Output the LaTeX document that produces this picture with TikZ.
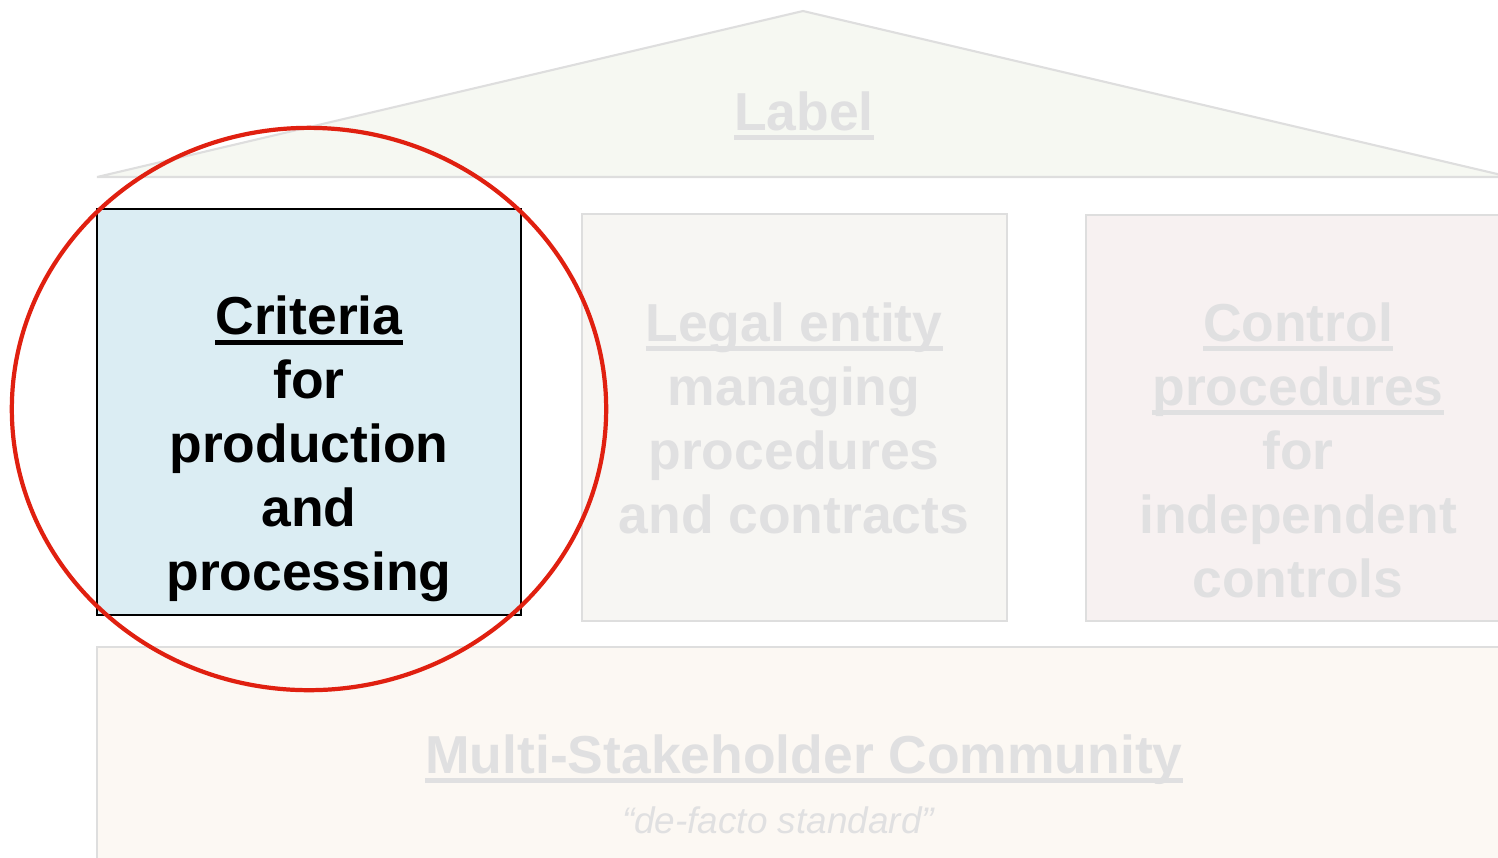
\documentclass[tikz,border=0pt]{standalone}
\usepackage{fontspec}
\setmainfont{Liberation Sans}
\usepackage{tikz}
\usetikzlibrary{shapes.geometric}

\definecolor{roofgreen}{RGB}{246,248,242}
\definecolor{fadetext}{RGB}{224,224,225}
\definecolor{fadeline}{RGB}{222,222,222}
\definecolor{critblue}{RGB}{219,237,243}
\definecolor{legalgrey}{RGB}{247,246,243}
\definecolor{controlrose}{RGB}{247,241,241}
\definecolor{basecream}{RGB}{252,248,243}
\definecolor{ringred}{RGB}{224,32,16}

\newsavebox\undersave
\newcommand{\undertext}[1]{\sbox\undersave{#1}\rlap{\rule[-2.8pt]{\wd\undersave}{1.4pt}}\usebox\undersave}

\tikzset{
  pillar/.style={rectangle, draw=fadeline, line width=0.6pt, minimum width=4.24cm, minimum height=4.06cm, inner sep=0pt},
  bigtext/.style={font=\fontsize{15.2}{18.2}\selectfont\bfseries, align=center, inner sep=0pt},
  focusring/.style={ellipse, draw=ringred, line width=1.2pt, minimum width=5.94cm, minimum height=5.62cm, inner sep=0pt}
}

\begin{document}
\begin{tikzpicture}[x=0.01cm,y=-0.01cm]
    \useasboundingbox (0,0) rectangle (1498,857);
    \clip (0,0) rectangle (1498,857);
    % roof
    \filldraw [fill=roofgreen, draw=fadeline, line width=0.6pt, line join=bevel] (97,177) -- (803,11) -- (1510,177) -- cycle;
    \node [bigtext, text=fadetext, anchor=base] (label) at (804,130) {\undertext{Label}};
    % pillars
    \node [pillar, draw=black, fill=critblue] (crit) at (309,412) {};
    \node [pillar, fill=legalgrey] (legal) at (794.5,417.5) {};
    \node [pillar, fill=controlrose] (control) at (1298.5,418) {};
    \node [bigtext] (crittext) at (309,449) {\undertext{Criteria}\\for\\production\\and\\processing};
    \node [bigtext, text=fadetext] (legaltext) at (794,418) {\undertext{Legal entity}\\managing\\procedures\\and contracts};
    \node [bigtext, text=fadetext] (controltext) at (1298,450) {\undertext{Control}\\\undertext{procedures}\\for\\independent\\controls};
    % base
    \filldraw [fill=basecream, draw=fadeline, line width=0.6pt] (97,880) -- (97,647) -- (1520,647) -- (1520,880);
    \node [bigtext, text=fadetext, anchor=base] (community) at (804,773) {\undertext{Multi-Stakeholder Community}};
    \node [font=\fontsize{10.5}{12}\selectfont\itshape, text=fadetext, anchor=base, inner sep=0pt] (standard) at (778,833) {“de-facto standard”};
    % highlight
    \node [focusring] (focus) at (309,409) {};
\end{tikzpicture}
\end{document}
